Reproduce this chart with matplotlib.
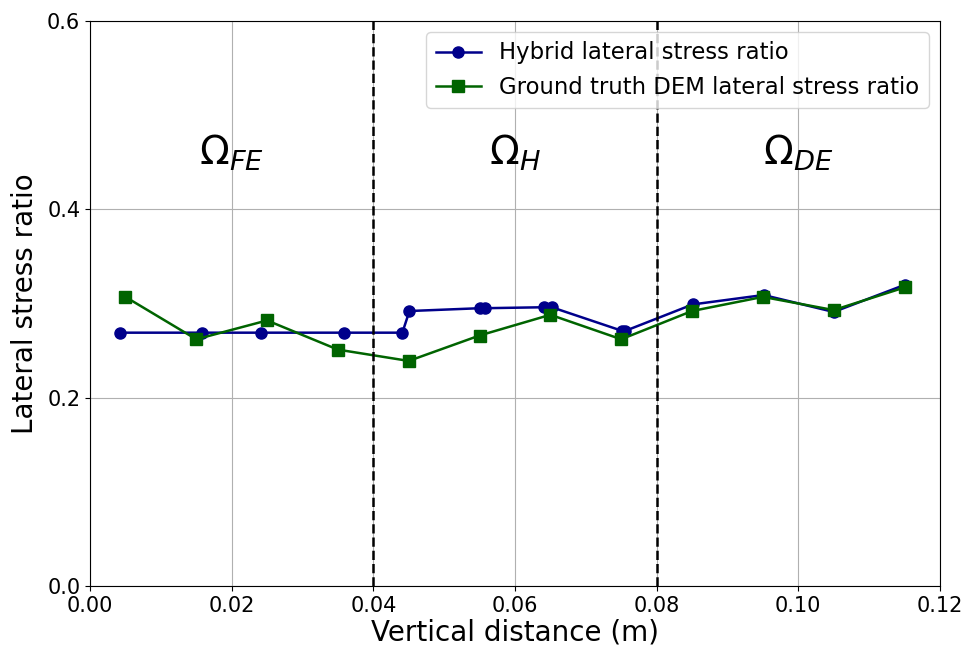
import matplotlib
matplotlib.use("Agg")
import matplotlib.pyplot as plt

hyb_x = [0.0043, 0.0158, 0.0242, 0.0358, 0.0441, 0.0451, 0.0551, 0.0558,
         0.0641, 0.0652, 0.0751, 0.0756, 0.0851, 0.0951, 0.1050, 0.1151]
hyb_y = [0.269, 0.269, 0.269, 0.269, 0.269, 0.292, 0.295, 0.295,
         0.296, 0.296, 0.271, 0.271, 0.299, 0.309, 0.291, 0.320]
gt_x = [0.005, 0.015, 0.025, 0.035, 0.045, 0.055, 0.065, 0.075, 0.085, 0.095, 0.105, 0.115]
gt_y = [0.307, 0.262, 0.282, 0.251, 0.239, 0.266, 0.288, 0.262, 0.292, 0.307, 0.293, 0.317]
boundaries = [0.04, 0.08]
region_labels = [r'$\Omega_{FE}$', r'$\Omega_{H}$', r'$\Omega_{DE}$']
region_x = [0.02, 0.06, 0.10]

fig = plt.figure(figsize=(9.71, 6.5), dpi=100)
ax = fig.add_axes([0.0927, 0.0985, 0.8753, 0.8692])
ax.plot(hyb_x, hyb_y, '-o', color='#00008B', markersize=8, linewidth=1.8,
        label='Hybrid lateral stress ratio')
ax.plot(gt_x, gt_y, '-s', color='#006400', markersize=8, linewidth=1.8,
        label='Ground truth DEM lateral stress ratio')
for b in boundaries:
    ax.axvline(b, color='black', linestyle='--', linewidth=1.8)
for lx, lt in zip(region_x, region_labels):
    ax.text(lx, 0.46, lt, fontsize=28, ha='center', va='center')
ax.set_xlim(0, 0.12)
ax.set_ylim(0, 0.6)
ax.set_xticks([0, 0.02, 0.04, 0.06, 0.08, 0.10, 0.12])
ax.set_yticks([0, 0.2, 0.4, 0.6])
ax.grid(True, color='#b0b0b0', linewidth=0.8)
ax.tick_params(labelsize=15)
ax.set_xlabel('Vertical distance (m)', fontsize=20, labelpad=2)
ax.set_ylabel('Lateral stress ratio', fontsize=20, labelpad=6)
ax.legend(loc='upper right', fontsize=16.4)
fig.savefig('out.png', dpi=100)
